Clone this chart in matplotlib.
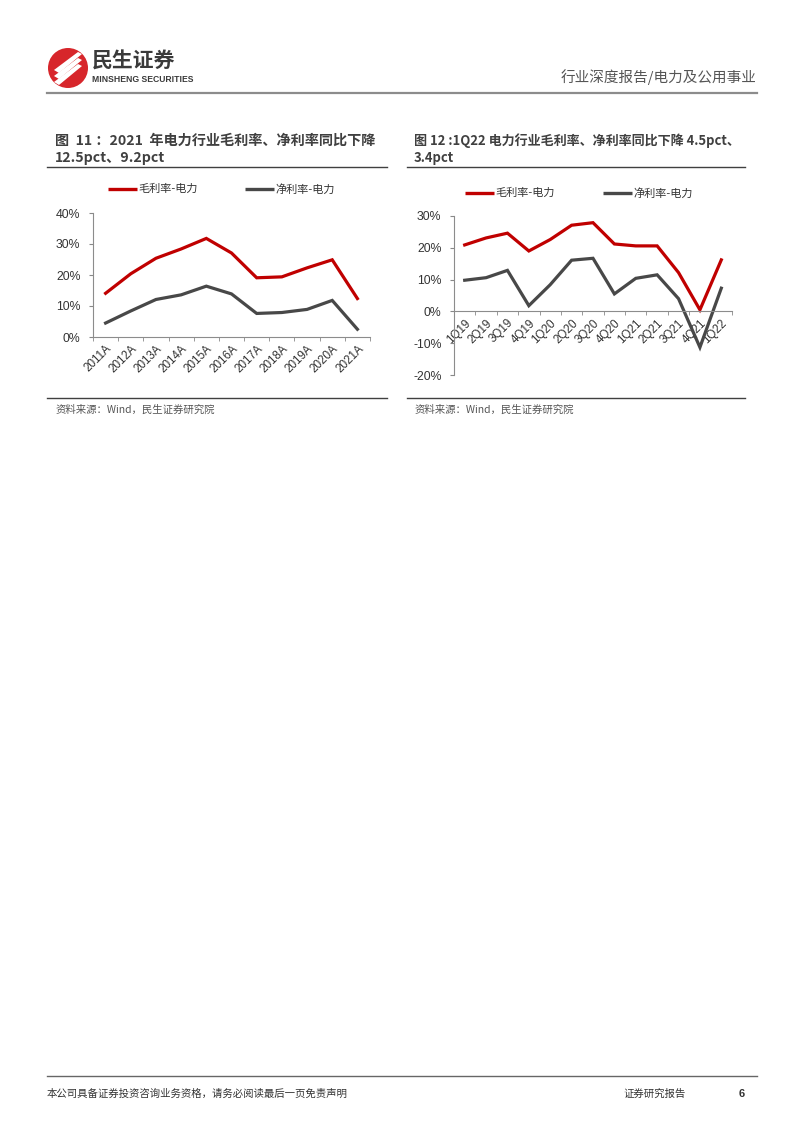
import matplotlib
matplotlib.use("Agg")
import matplotlib.pyplot as plt
from matplotlib.patches import Ellipse, Polygon
import numpy as np

plt.rcParams['font.family'] = ['Liberation Sans', 'Noto Sans CJK SC', 'DejaVu Sans']

W, H = 802, 1133

# ---------------- data ----------------
years = ['2011A', '2012A', '2013A', '2014A', '2015A', '2016A', '2017A', '2018A', '2019A', '2020A', '2021A']
gross_y = [14.1, 20.4, 25.4, 28.4, 31.8, 27.1, 19.1, 19.4, 22.3, 24.9, 12.4]
net_y = [4.5, 8.4, 12.1, 13.6, 16.4, 13.9, 7.6, 7.9, 8.9, 11.8, 2.5]

quarters = ['1Q19', '2Q19', '3Q19', '4Q19', '1Q20', '2Q20', '3Q20', '4Q20', '1Q21', '2Q21', '3Q21', '4Q21', '1Q22']
gross_q = [20.9, 23.1, 24.6, 19.0, 22.6, 27.1, 27.9, 21.2, 20.6, 20.6, 12.2, 0.5, 16.2]
net_q = [9.8, 10.6, 12.9, 1.8, 8.4, 16.1, 16.7, 5.5, 10.4, 11.5, 4.0, -11.3, 7.3]

yt1 = [0, 10, 20, 30, 40]
yt2 = [-20, -10, 0, 10, 20, 30]

series_names = ['毛利率-电力', '净利率-电力']
title1 = ['图  11 ：2021  年电力行业毛利率、净利率同比下降', '12.5pct、9.2pct']
title2 = ['图 12 :1Q22 电力行业毛利率、净利率同比下降 4.5pct、', '3.4pct']
source = '资料来源：Wind，民生证券研究院'

RED = '#C00000'
GRAY = '#484848'
CJK = ['Noto Sans CJK SC', 'DejaVu Sans']

fig = plt.figure(figsize=(W / 100, H / 100), dpi=100)


def fx(x):
    return x / W


def fy(y):
    return 1 - y / H


def hline(x0, x1, y, color='#888888', lw=1.0):
    fig.add_artist(plt.Line2D([fx(x0), fx(x1)], [fy(y), fy(y)], color=color, lw=lw,
                              transform=fig.transFigure))


# ---------------- header ----------------
fig.add_artist(Ellipse((fx(68), fy(68)), 40 / W, 40 / H, transform=fig.transFigure,
                       color='#D7262B', ec='none'))
for dy in (-6, 0, 6):
    fig.add_artist(Polygon([(fx(54), fy(76 + dy)), (fx(78), fy(58 + dy)),
                            (fx(82), fy(60 + dy)), (fx(59), fy(79 + dy))],
                           closed=True, transform=fig.transFigure, color='white', ec='none'))
fig.text(fx(92), fy(61), '民生证券', family=CJK, fontsize=15, fontweight='bold',
         color='#3a3a3a', va='center', ha='left')
fig.text(fx(92), fy(80), 'MINSHENG SECURITIES', fontsize=6.2, fontweight='bold',
         color='#3a3a3a', va='center', ha='left')
fig.text(fx(757), fy(77), '行业深度报告/电力及公用事业', family=CJK, fontsize=10.5,
         color='#555555', va='center', ha='right')
hline(47, 757, 93, color='#8c8c8c', lw=1.6)

# ---------------- footer ----------------
hline(47, 757, 1076, color='#666666', lw=1.0)
fig.text(fx(47), fy(1094), '本公司具备证券投资咨询业务资格，请务必阅读最后一页免责声明', family=CJK,
         fontsize=7.5, color='#333333', va='center', ha='left')
fig.text(fx(623), fy(1094), '证券研究报告', family=CJK, fontsize=7.5, color='#333333',
         va='center', ha='left')
fig.text(fx(742), fy(1094), '6', fontsize=8, fontweight='bold', color='#333333',
         va='center', ha='center')


def panel(x0, tl, title, tfs, cats, g, n, yticks, ax_box, leg_y, leg_x, src_line_y, zero_axis):
    fig.text(fx(x0), fy(141), title[0], family=CJK, fontsize=tfs, fontweight='bold',
             color='#404040', va='center', ha='left')
    fig.text(fx(x0), fy(158), title[1], family=CJK, fontsize=tfs, fontweight='bold',
             color='#404040', va='center', ha='left')
    hline(tl[0], tl[1], 167, color='#404040', lw=1.0)
    for (lx, name, col) in zip(leg_x, series_names, [RED, GRAY]):
        fig.add_artist(plt.Line2D([fx(lx), fx(lx + 29)], [fy(leg_y), fy(leg_y)], color=col,
                                  lw=2.4, transform=fig.transFigure, solid_capstyle='butt'))
        fig.text(fx(lx + 30), fy(leg_y), name, family=CJK, fontsize=8, color='#333333',
                 va='center', ha='left')
    ax_l, ax_t, ax_r, ax_b = ax_box
    ax = fig.add_axes([fx(ax_l), fy(ax_b), (ax_r - ax_l) / W, (ax_b - ax_t) / H])
    for s in ['top', 'right']:
        ax.spines[s].set_visible(False)
    for s in ['left', 'bottom']:
        ax.spines[s].set_color('#8c8c8c')
        ax.spines[s].set_linewidth(0.8)
    if zero_axis:
        ax.spines['bottom'].set_position(('data', 0))
    x = np.arange(len(cats))
    ax.plot(x, g, color=RED, lw=2.3, solid_joinstyle='miter')
    ax.plot(x, n, color=GRAY, lw=2.3, solid_joinstyle='miter')
    ax.set_xlim(-0.5, len(cats) - 0.5)
    ax.set_ylim(yticks[0], yticks[-1])
    ax.set_yticks(yticks)
    ax.set_yticklabels([f'{v}%' for v in yticks], fontsize=8.8, color='#333333')
    ax.set_xticks(x)
    ax.set_xticklabels(cats, rotation=45, ha='right', va='top', rotation_mode='anchor',
                       fontsize=8.4, color='#333333')
    ax.set_xticks(np.arange(-0.5, len(cats) + 0.5, 1), minor=True)
    ax.tick_params(axis='x', which='major', length=0, pad=4)
    ax.tick_params(axis='x', which='minor', length=3, color='#888888', direction='out')
    ax.tick_params(axis='y', length=3, color='#888888', direction='out', pad=6)
    ax.patch.set_alpha(0)
    hline(tl[0], tl[1], src_line_y, color='#404040', lw=1.0)
    fig.text(fx(x0 + 1), fy(src_line_y + 12), source, family=CJK, fontsize=7.5,
             color='#555555', va='center', ha='left')
    return ax


panel(55, (47, 387), title1, 10.2, years, gross_y, net_y, yt1,
      (93, 213, 370, 337), 189, (108, 245), 398, False)
panel(414, (407, 745), title2, 9.4, quarters, gross_q, net_q, yt2,
      (454, 216, 732, 375), 193, (465, 603), 398, True)

fig.savefig('out.png', dpi=100)
